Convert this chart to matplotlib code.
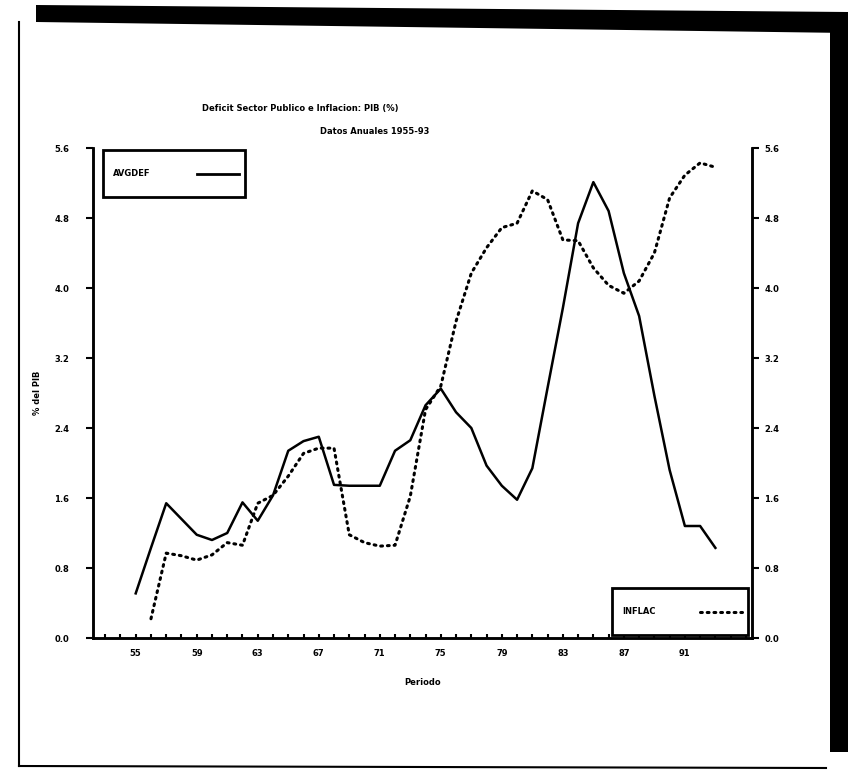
import numpy as np
import matplotlib
matplotlib.use('Agg')
import matplotlib.pyplot as plt
from matplotlib.patches import Polygon, Rectangle
from matplotlib.lines import Line2D

# Annual data, 1955-93
years_def = list(range(55, 94))
avgdef = [0.51, 1.03, 1.54, 1.36, 1.18, 1.12, 1.20, 1.55, 1.34, 1.63,
          2.14, 2.25, 2.30, 1.75, 1.74, 1.74, 1.74, 2.14, 2.26, 2.66,
          2.85, 2.58, 2.40, 1.97, 1.74, 1.58, 1.94, 2.86, 3.77, 4.74,
          5.21, 4.88, 4.17, 3.68, 2.77, 1.92, 1.28, 1.28, 1.03]

years_inf = list(range(56, 94))
inflac = [0.22, 0.97, 0.94, 0.89, 0.95, 1.09, 1.06, 1.54, 1.63,
          1.85, 2.11, 2.17, 2.17, 1.18, 1.09, 1.05, 1.06, 1.62, 2.61,
          2.88, 3.62, 4.17, 4.46, 4.69, 4.74, 5.11, 5.01, 4.55, 4.54,
          4.23, 4.03, 3.94, 4.08, 4.40, 5.03, 5.29, 5.43, 5.38]

xticks = [55, 59, 63, 67, 71, 75, 79, 83, 87, 91]
yticks = [0.0, 0.8, 1.6, 2.4, 3.2, 4.0, 4.8, 5.6]

W, H = 864, 771
fig = plt.figure(figsize=(W / 100, H / 100), dpi=100)

def px(x, y):
    return (x / W, 1 - y / H)

# scanned page: thin left/bottom edge, heavy black shadow top and right
page = [
    Polygon([px(36, 5), px(848, 12), px(848, 33), px(36, 22)], closed=True,
            facecolor='black', edgecolor='none', transform=fig.transFigure),
    Polygon([px(830, 20), px(848, 20), px(848, 752), px(830, 752)], closed=True,
            facecolor='black', edgecolor='none', transform=fig.transFigure),
]
for p in page:
    fig.patches.append(p)
fig.lines.append(Line2D([19 / W, 19 / W], [1 - 22 / H, 1 - 766 / H], color='black',
                        lw=1.5, transform=fig.transFigure))
fig.lines.append(Line2D([19 / W, 826 / W], [1 - 766 / H, 1 - 768 / H], color='black',
                        lw=1.5, transform=fig.transFigure))

ax = fig.add_axes([93 / W, 1 - 638 / H, (752 - 93) / W, (638 - 148) / H])
ax.plot(years_def, avgdef, color='black', lw=1.8)
ax.set_xlim(52.2, 95.4)
ax.set_ylim(0, 5.6)

ax2 = ax.twinx()
dotted = (0, (0.6, 1.6))
ax2.plot(years_inf, inflac, color='black', lw=2.2, linestyle=dotted,
         dash_capstyle='round')
ax2.set_ylim(0, 5.6)

fs = 6
for a in (ax, ax2):
    for s in a.spines.values():
        s.set_linewidth(1.8)
    a.spines['top'].set_visible(False)
ax.set_xticks(xticks)
ax.set_xticklabels([str(t) for t in xticks], fontsize=fs, fontweight='bold')
ax.set_xticks(range(53, 96), minor=True)
ax.tick_params(axis='x', which='both', direction='in', length=3, width=1.5, pad=8)
ax.set_yticks(yticks)
ax.set_yticklabels(['%.1f' % t for t in yticks], fontsize=fs, fontweight='bold')
ax.tick_params(axis='y', direction='out', length=5, width=1.5, pad=12)
ax2.set_yticks(yticks)
ax2.set_yticklabels(['%.1f' % t for t in yticks], fontsize=fs, fontweight='bold')
ax2.tick_params(axis='y', direction='out', length=5, width=1.5, pad=4)

ax.set_ylabel('% del PIB', fontsize=fs, fontweight='bold', labelpad=9)
ax.set_xlabel('Periodo', fontsize=fs, fontweight='bold', labelpad=14)

fig.text(300 / W, 1 - 108 / H, 'Deficit Sector Publico e Inflacion: PIB (%)',
         fontsize=fs, fontweight='bold', ha='center', va='center')
fig.text(375 / W, 1 - 131 / H, 'Datos Anuales 1955-93',
         fontsize=fs, fontweight='bold', ha='center', va='center')

# legend boxes, drawn by hand to get the boxy look of the scan
def legend_box(x0, y0, x1, y1, label, ls):
    fig.patches.append(Rectangle(px(x0, y1), (x1 - x0) / W, (y1 - y0) / H,
                                 facecolor='white', edgecolor='black', lw=2,
                                 transform=fig.transFigure, zorder=5))
    ym = (y0 + y1) / 2
    fig.text(x0 + 10, 1 - ym / H, '', fontsize=fs)
    fig.text((x0 + 10) / W, 1 - ym / H, label, fontsize=fs, fontweight='bold',
             ha='left', va='center', zorder=6)
    fig.lines.append(Line2D([(x1 - 48) / W, (x1 - 6) / W], [1 - ym / H, 1 - ym / H],
                            color='black', lw=2 if ls == '-' else 2.2, linestyle=ls,
                            dash_capstyle='round', transform=fig.transFigure, zorder=6))

legend_box(103, 150, 245, 197, 'AVGDEF', '-')
legend_box(612, 588, 748, 635, 'INFLAC', dotted)

fig.savefig('out.png', dpi=100, facecolor='white')
